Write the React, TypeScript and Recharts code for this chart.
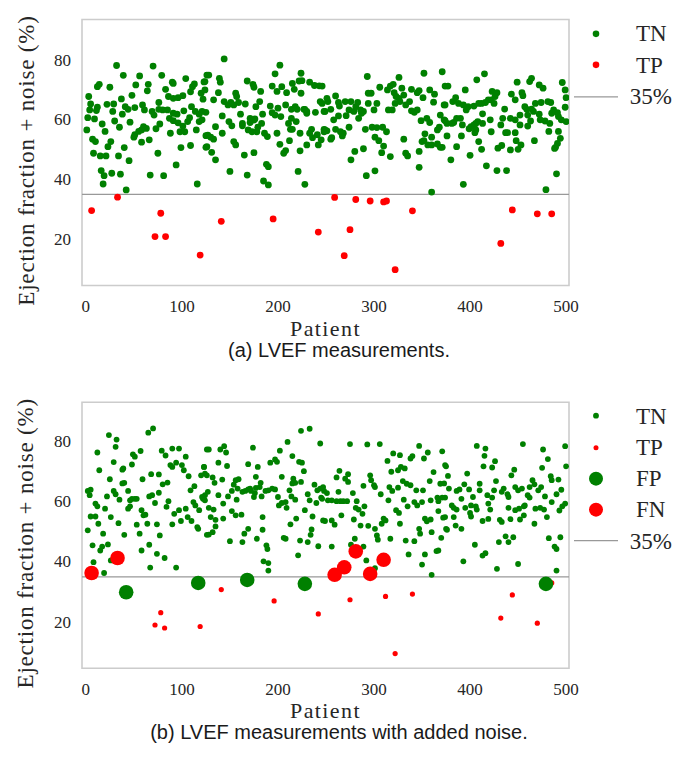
import React from "react";
import {
  ScatterChart,
  Scatter,
  XAxis,
  YAxis,
  ReferenceLine,
  ReferenceArea,
  Legend,
} from "recharts";

type Pt = [number, number];

// (a) LVEF measurements: [patient, ejection fraction]
const tnA: Pt[] = [
  [32,78.2],[70,78],[39,74.9],[56,74.7],[79,74.9],[14,71.9],[12,71.1],[25,70.9],[52,71.7],[65,71.9],[64,69.7],[48,68.2],[3,67.8],[37,67],[90,72.6],[91,72.2],[83,70.2],[86,67.8],[91,67.2],[96,67.4],[101,68.1],[104,73.8],[113,72],[111,71.1],[109,69.4],[120,68.9],[123,72.7],[126,75],
  [5,65.3],[22,65.2],[29,65.3],[41,64.4],[44,63.5],[51,64.1],[59,65],[61,63.3],[4,63.3],[12,64.2],[11,63.1],[28,62.8],[38,61.9],[69,62.8],[76,65.8],[76,63.5],[80,63.3],[85,63.3],[71,61.6],[91,62.2],[95,61.9],[102,63],[110,64.4],[114,62.8],[118,61.9],[121,62.8],
  [2,60.7],[9,60.3],[17,58.6],[30,59.6],[46,59.2],[35,57.5],[60,57.7],[63,57.1],[58,56.6],[55,56.1],[51,55],[50,54.2],[77,58.6],[73,57],[87,60.5],[91,59.7],[96,59],[101,57.9],[98,56],[103,56],[106,59.4],[108,60.7],[118,59.4],[115,56.6],[1,56.6],[20,56.1],[88,55.5],
  [7,53.5],[10,52.7],[26,52.7],[23,51],[40,50.7],[58,52.5],[66,53.3],[99,50.7],[109,51.4],[125,54.7],[125,50.8],[8,48.8],[15,47.9],[21,47.9],[34,47.9],[45,46.3],[75,48.8],[94,44.9],[16,43],[19,41.3],[27,42.1],[36,41.8],[67,41.5],[81,41.3],[18,38.5],[42,36.5],[116,38.5],
  [144,80.4],[202,78.3],[128,75],[124,72.8],[139,73.9],[140,72.6],[197,75.4],[224,75.6],[168,73],[174,71.9],[175,70.9],[124,70],[138,69.1],[182,69.5],[194,71.3],[199,69.5],[204,71.1],[209,69.1],[215,72.2],[217,70.2],[222,73],[225,73.1],[224,68.9],[233,72.6],[238,71.5],[243,71.4],
  [122,66.9],[133,66.7],[144,66.1],[148,65],[156,68.9],[157,67.8],[151,65.8],[154,65],[159,65.8],[166,65.3],[181,66.1],[177,64.4],[192,64.6],[200,63.9],[208,65],[214,63.5],[218,64.4],[220,63.5],[227,63.5],[230,62.8],[239,62.5],[244,66.1],[248,62.8],[125,62.5],[121,60],[142,61.3],
  [149,59.4],[152,58],[161,61.9],[163,58.8],[163,58],[171,60.5],[175,59.9],[176,60.3],[171,59.1],[169,56.6],[173,56],[179,57.5],[178,56],[184,61.9],[183,58.8],[186,55.5],[189,54.4],
  [194,62.4],[197,61.6],[203,61.1],[199,55.5],[211,58.8],[214,60.5],[213,56.8],[215,56.8],[219,59.4],[223,55.5],[228,63.5],[230,62.2],[235,56.8],[233,55.5],[236,54],[241,55],[242,51.6],[248,56.8],[248,56],[245,53.3],
  [127,54.9],[130,54.2],[133,53.5],[135,57.7],[142,55.5],[126,51],[131,49.1],[135,46.6],[154,52.7],[156,51.6],[202,51.8],[212,53],[206,48.8],[208,49.7],[223,49.6],[230,51.6],[165,48.2],[175,49],[188,45.1],[190,44.3],[150,42.7],[168,41.5],[185,39.5],[190,38.2],[221,42.7],[228,38.4],
  [293,74.5],[326,74.2],[352,75.6],[371,76.1],[246,71.3],[374,71.3],[251,67.2],[252,66.1],[246,65.5],[260,68],[263,65.8],[264,64.6],[255,63.5],[249,62.8],[270,66.1],[276,66.1],[283,65.8],[281,64.4],[279,62.8],[274,63.3],[271,61.4],[286,63.3],[287,62.2],[284,60.5],[289,62.8],[294,68.9],[297,68.9],[294,65.5],
  [300,63.3],[303,65.5],[306,70.9],[314,70],[317,71.3],[320,71.9],[321,69.1],[323,67.8],[326,67.2],[329,70.6],[331,68.3],[322,65.5],[319,63.3],[315,63.3],[327,66.1],[333,65],[337,66.1],[339,70.2],[345,69.1],[347,69.8],[351,67.4],[358,70],[363,68.6],[362,65.9],[339,63],[342,62.5],[345,63.3],[349,59.7],[355,60.5],[358,59.1],[369,61.6],[373,65],[374,59.7],[368,57.5],[366,56.6],
  [249,56.6],[251,56.3],[256,54],[255,53.5],[260,56.8],[265,56],[268,55.5],[267,54.6],[274,57.5],[258,60],[263,61.3],
  [291,56.8],[298,57.5],[303,57.4],[309,57.5],[313,56],[301,54.2],[305,53],[331,53.5],[310,51.2],[308,49],[317,47.7],[333,48.8],[335,47.9],[347,49.4],[350,52.7],[352,53],[356,51.6],[360,51.6],[366,51.9],[369,50.8],[360,54.2],[353,55.3],
  [280,49.4],[276,46.6],[289,50.3],[347,44.1],[292,41.3],[301,42.9],[360,35.8],
  [415,75.4],[407,73.4],[377,71.3],[395,70],[449,72.6],[462,72.8],[464,73.9],[472,71.7],[476,70.6],[496,72.5],[499,70],[500,67.4],
  [423,69.5],[428,69.1],[426,67.8],[422,66.7],[419,66.7],[425,65.5],[416,65.8],[412,65.5],[409,65.5],[404,64.6],[385,67.4],[382,66.1],[388,65.5],[393,65],[398,64.4],[396,63.3],[374,65],
  [443,68.6],[447,66.7],[454,69.1],[455,68.1],[468,65.5],[474,65.8],[481,66.1],[484,65.8],[487,63.3],[491,62.4],[499,64.2],[457,64.4],[459,63.5],[464,63.6],[466,62.8],
  [436,63.6],[434,60.5],[442,60.5],[447,60],[452,61.6],[460,61.6],[472,61.9],[463,59.6],[473,60],[478,59.6],[483,58.8],[492,61.1],[495,60],[500,59.4],[485,62.2],
  [373,60],[376,58.8],[381,58.8],[383,59.1],[386,60.5],[390,60.5],[392,58.3],[399,57],[401,57.7],[404,58.3],[406,58.8],[408,59.4],[413,58.8],[406,56.6],[405,55.7],[413,62],[421,60],[432,58.3],[439,55.7],[437,55.7],[447,55.7],[452,58.3],[460,57.9],[422,56],
  [376,54.6],[391,54.6],[371,50.8],[386,51],[409,52.7],[412,50.1],[429,50.5],[433,51.4],[442,49.9],[450,50.1],[453,51.6],[448,53],[467,53],[482,56.1],[492,56.1],[494,53.8],[491,52.1],[489,50.8],[488,50.4],
  [380,46.6],[400,48.1],[417,44.6],[428,43],[438,43],[490,41.9],[393,38.4],[479,36.6],
];

const tpA: Pt[] = [
  [6,29.6],[33,34.1],[78,28.7],[72,20.9],[83,20.9],[119,14.7],[141,26],[195,26.8],[242,22.4],[259,34],[281,33.3],
  [296,32.8],[310,32.5],[313,32.8],[340,29.5],[275,23.2],[269,14.5],[322,9.8],[444,29.8],[470,28.5],[485,28.5],[432,18.6],
];

// (b) LVEF measurements with added noise
const tnB: Pt[] = [
  [24,82.2],[32,80.7],[31,78.3],[70,84.4],[65,83],[12,76.4],[49,75.8],[51,75],[57,76.9],[29,73.2],[14,70.5],[39,71.1],[38,70.7],[48,72.4],[79,77],[83,75.4],[90,77.7],[97,77.7],[104,75],[88,72.2],[90,71.6],[94,73],[100,72.2],[102,70.5],[107,68.5],[109,63.8],[113,65.2],[123,71.6],[120,68.8],[126,68.8],[126,77.4],
  [68,69.2],[76,69.1],[59,67.5],[25,67.5],[40,66.3],[38,66.1],[80,65.8],[85,66.4],
  [2,63.6],[4,62.2],[5,64],[10,59.4],[12,58.5],[20,57.7],[22,61.8],[29,63.6],[31,62.5],[35,60.7],[44,63.6],[48,61],[53,61],[51,61],[46,60.5],[44,57.7],[46,58.5],[58,57.2],[60,55.5],[62,55.7],[66,61.8],[69,62.2],[72,59.6],[76,63],[84,58.3],[86,60.2],[92,56],[97,57.2],[99,53.6],[104,57.7],[106,54.9],[110,53.6],[112,59.9],[114,58.8],[118,57.2],[122,61],[124,62.2],
  [5,55.1],[10,55.1],[2,50.5],[13,52.7],[18,49.4],[26,54.9],[34,52.9],[40,49],[53,52.4],[56,49.4],[64,52.7],[74,52.5],[77,48.8],[90,52.5],[116,51.6],[117,51],[126,49],
  [7,45.5],[15,43.8],[17,45.1],[23,45.8],[58,43.8],[66,45.7],[74,42.7],[82,41.3],[8,39.9],[19,36.3],[67,38.1],[94,38.1],[26,40.5],
  [128,77.4],[140,77.4],[144,78.5],[146,76.4],[174,78],[210,79.9],[202,77],[215,75.2],[222,73.3],[225,73],[227,70.2],[244,79.4],[224,83.6],[233,84.3],
  [123,71.6],[138,73],[147,71.9],[169,72.5],[179,71.6],[192,73],[197,74.1],[199,73.3],
  [124,69.4],[132,68.1],[134,66.3],[142,67.4],[156,67.2],[159,67.5],[154,65.7],[158,64.4],[177,68.3],[182,66.3],[181,64.9],[177,64.6],[204,68.3],[216,67.7],[215,66.1],[218,66.3],[224,66.6],[238,65.7],[244,64.4],[247,64.9],[241,63.8],
  [121,61.6],[127,63.3],[124,60.5],[138,62.2],[148,61.8],[152,63.6],[157,60.7],[163,63.3],[166,63.6],[169,64.1],[171,64.4],[172,63.6],[175,61.6],[176,62.9],[183,61.8],[187,63.6],[190,63.8],[194,64.4],[197,64.1],[200,61.6],[204,59.6],[201,58.8],[208,59.9],[209,58],[212,63.8],[214,61.8],[218,60.7],[231,62.5],[233,60.5],[240,59.6],[245,61.4],[248,63.6],
  [128,58],[133,57.4],[143,59.4],[152,56.9],[156,55.5],[162,55.7],[143,54.4],[130,54.9],[135,54],[135,51.8],[128,49.1],[132,49.9],[228,57.2],[236,55.1],[247,53.8],[219,54.4],[213,52.5],[184,54.9],[184,50.7],[165,49.4],[169,51],[178,47.7],[163,46.6],[150,46.9],[206,48],[208,47.7],[223,47.1],[231,46.6],[235,50.8],[234,49],[242,45.2],[221,42.2],[188,45.5],[189,44.3],[185,40.2],[190,39.6],[190,37.1],
  [275,79.2],[293,79.1],[306,79.2],[347,78.6],[320,76.1],[327,75.5],[338,74.4],[340,75.2],[352,74.4],[356,76.4],[371,76.8],[314,73.6],
  [264,70.3],[261,68.1],[270,67.7],[273,69.2],[273,66.6],[296,68.8],[297,67.2],[300,65.5],[301,64.9],[289,65.3],[318,70],[325,70.5],[328,71.6],[332,71.1],[330,66.9],[334,66],[338,65.5],[325,64.7],[316,64.9],[319,63.6],[307,62.5],[344,63.8],[351,63.8],[358,66.9],[362,69.9],[369,66],[374,72.2],
  [251,62.9],[252,60.5],[246,61],[256,60.5],[261,60.2],[265,60.2],[268,60.2],[272,60.2],[263,63.3],[278,62.9],[282,60.2],[281,58],[284,57.4],[290,58.5],[288,56],[315,60.5],[323,57.2],[331,60.7],[335,58.5],[342,59.9],[345,58.8],[350,59.9],[359,60.5],[366,61.4],[371,61.4],[367,60.2],[367,56.9],[372,54.7],[326,56.3],
  [249,53.6],[256,53.8],[259,52.4],[266,55.5],[279,54.1],[286,52.1],[294,52],[301,51],[310,54.4],[308,52.7],[312,53.8],[327,52.7],[347,51],[348,49.4],[353,54.4],[355,53.5],[359,54.1],[360,49.9],[370,48],[375,51],
  [303,48.8],[304,47.4],[317,47.7],[333,47.1],[342,46.9],[280,47.7],[256,45.1],[276,45.7],[289,45.1],[336,42.5],[353,42.5],[365,43.6],[367,43.8],[350,39.1],[292,40.5],[301,37.9],[360,35.7],
  [407,78.6],[416,77.7],[415,75.3],[455,79.2],[476,77.4],[481,74.2],[499,78.5],
  [375,71.8],[377,68.6],[397,69.4],[414,71.8],[423,71.4],[426,73.5],[443,68.8],[446,70.7],[475,71.3],[484,68.5],[485,67.2],[492,67.4],[495,64],[500,71.8],[496,58.5],[499,59.4],[493,57.1],
  [373,66.1],[378,64.4],[386,63.6],[389,64.1],[394,65.8],[399,64.1],[403,61.6],[410,66],[410,63.8],[418,62.2],[425,63.8],[427,66.9],[435,64.4],[439,62.5],[440,61.6],[447,64.9],[450,63.8],[454,64.4],[460,62.2],[462,64.9],[465,67.2],[467,65.8],[471,63.8],[474,64.9],[478,61.8],[485,59.9],[490,62.5],[462,61.4],
  [374,61.4],[381,58.8],[383,58],[386,57.4],[391,61],[395,58],[401,58.8],[400,56.3],[406,58.5],[407,57.4],[419,59.4],[421,57.4],[423,61.4],[433,63.3],[440,58],[447,57.2],[451,57.7],[456,58.5],[457,58.8],[468,57.7],[473,58],[477,57.4],
  [374,54.9],[383,54.9],[385,52.1],[391,51],[401,55.1],[413,53.6],[419,54.3],[431,54],[433,53.3],[442,54.2],[452,54.1],[456,55.5],[467,52.7],[480,54.9],[376,50.7],
  [405,45.7],[413,42.1],[416,42.9],[430,46.6],[437,48.5],[440,46.6],[445,48.2],[482,47.9],[494,48.2],[488,45.1],[490,44.3],[393,40.2],[428,37.7],[450,39.3],[490,37.1],
];

const tpB: Pt[] = [
  [78,23.1],[72,19],[82,18],[119,18.5],[141,30.8],[196,27],[242,22.7],[275,27.4],
  [312,28.5],[340,29.3],[322,9.5],[444,29],[432,21.3],[470,19.6],[485,33],
];
const fpB: Pt[] = [[42,29.9],[117,33],[168,34],[228,32.7],[479,32.7]];
const fnB: Pt[] = [[6,36.3],[33,41.3],[259,35.7],[269,38.2],[281,43.5],[296,36],[310,40.7]];

const X_TICKS = [0, 100, 200, 300, 400, 500];
const Y_TICKS = [20, 40, 60, 80];
const THRESHOLD = 35;

const GREEN = "#008000";
const RED = "#ff0000";
const FRAME = "#cccccc";
const LINE = "#999999";
const INK = "#262626";
const SERIF = "'Liberation Serif', 'Times New Roman', serif";
const SANS = "'Liberation Sans', Arial, sans-serif";

const toRows = (pts: Pt[]) => pts.map(([patient, ef]) => ({ patient, ef }));

const dot = (r: number, fill: string) => (props: any) =>
  <circle cx={props.cx} cy={props.cy} r={r} fill={fill} />;

// serif tick labels, drawn by hand so the font sticks
function XTick(props: any) {
  return (
    <text x={props.x} y={props.y + 13} textAnchor="middle" dominantBaseline="central"
      fill={INK} fontFamily={SERIF} fontSize={17}>
      {props.payload.value}
    </text>
  );
}

function YTick(props: any) {
  return (
    <text x={props.x - 3} y={props.y} textAnchor="end" dominantBaseline="central"
      fill={INK} fontFamily={SERIF} fontSize={17}>
      {props.payload.value}
    </text>
  );
}

type LegendItem = { label: string; color?: string; r?: number; line?: boolean };

function LegendBox({ items, rowH }: { items: LegendItem[]; rowH: number }) {
  return (
    <div style={{ fontFamily: SERIF, fontSize: 23, color: INK }}>
      {items.map((it) => (
        <div key={it.label} style={{ display: "flex", alignItems: "center", height: rowH }}>
          <svg width={52} height={rowH}>
            {it.line ? (
              <line x1={2} x2={46} y1={rowH / 2} y2={rowH / 2} stroke={LINE} strokeWidth={1.4} />
            ) : (
              <circle cx={24} cy={rowH / 2} r={it.r} fill={it.color} />
            )}
          </svg>
          <span style={{ marginLeft: 12, lineHeight: 1 }}>{it.label}</span>
        </div>
      ))}
    </div>
  );
}

function YTitle(props: any) {
  const vb = props.viewBox;
  const cx = 26;
  const cy = vb.y + vb.height / 2 + 8;
  return (
    <text x={cx} y={cy} transform={`rotate(-90 ${cx} ${cy})`} textAnchor="middle"
      dominantBaseline="central" fill={INK} fontFamily={SERIF} fontSize={23} letterSpacing={0.8}>
      Ejection fraction + noise (%)
    </text>
  );
}

function XTitle(props: any) {
  const vb = props.viewBox;
  return (
    <text x={vb.x + vb.width / 2} y={vb.y + 42.5} textAnchor="middle" dominantBaseline="central"
      fill={INK} fontFamily={SERIF} fontSize={22} letterSpacing={1.4}>
      Patient
    </text>
  );
}

type Series = { name: string; pts: Pt[]; r: number; color: string };

const CHART_H = 360;
const PLOT_H = 266;

function Panel({ series, legend, yDomain, top, rowH, legendTop }: {
  series: Series[]; legend: LegendItem[]; yDomain: [number, number];
  top: number; rowH: number; legendTop: number;
}) {
  return (
    <ScatterChart width={678} height={CHART_H} margin={{ top, right: 109, bottom: 0, left: 0 }}>
      <XAxis dataKey="patient" type="number" domain={[-4, 503]} allowDataOverflow ticks={X_TICKS}
        tickLine={false} axisLine={false} height={CHART_H - top - PLOT_H}
        tick={<XTick />} label={<XTitle />} />
      <YAxis dataKey="ef" type="number" domain={yDomain} allowDataOverflow ticks={Y_TICKS}
        tickLine={false} axisLine={false} width={82}
        tick={<YTick />} label={<YTitle />} />
      <ReferenceArea x1={-4} x2={503} y1={yDomain[0]} y2={yDomain[1]} fill="none"
        stroke={FRAME} strokeWidth={1.6} ifOverflow="visible" />
      {series.map((s) => (
        <Scatter key={s.name} name={s.name} data={toRows(s.pts)} fill={s.color}
          shape={dot(s.r, s.color)} isAnimationActive={false} />
      ))}
      <ReferenceLine y={THRESHOLD} stroke={LINE} strokeWidth={1.3} />
      <Legend layout="vertical" align="center" verticalAlign="middle"
        wrapperStyle={{ left: 572, top: legendTop, width: 100 }}
        content={() => <LegendBox items={legend} rowH={rowH} />} />
    </ScatterChart>
  );
}

const captionStyle: React.CSSProperties = {
  position: "absolute", left: 0, width: 678, textAlign: "center",
  fontFamily: SANS, fontSize: 20, lineHeight: "15px", color: "#1a1a1a",
};

export default function App() {
  return (
    <div style={{ position: "absolute", left: 0, top: 0, width: 678, height: 770, background: "#fff" }}>
      <div style={{ position: "absolute", left: 0, top: 0 }}>
        <Panel
          top={19.5}
          yDomain={[4.5, 93.6]}
          rowH={31.7}
          legendTop={17.5}
          series={[
            { name: "TN", pts: tnA, r: 3.4, color: GREEN },
            { name: "TP", pts: tpA, r: 3.4, color: RED },
          ]}
          legend={[
            { label: "TN", color: GREEN, r: 3.3 },
            { label: "TP", color: RED, r: 3.3 },
            { label: "35%", line: true },
          ]}
        />
      </div>
      <div style={{ ...captionStyle, top: 343 }}>(a) LVEF measurements.</div>
      <div style={{ position: "absolute", left: 0, top: 380 }}>
        <Panel
          top={22.3}
          yDomain={[4.6, 93.1]}
          rowH={31.25}
          legendTop={20.4}
          series={[
            { name: "TN", pts: tnB, r: 2.9, color: GREEN },
            { name: "TP", pts: tpB, r: 2.6, color: RED },
            { name: "FP", pts: fpB, r: 7.3, color: GREEN },
            { name: "FN", pts: fnB, r: 7.3, color: RED },
          ]}
          legend={[
            { label: "TN", color: GREEN, r: 2.9 },
            { label: "TP", color: RED, r: 2.5 },
            { label: "FP", color: GREEN, r: 7 },
            { label: "FN", color: RED, r: 7 },
            { label: "35%", line: true },
          ]}
        />
      </div>
      <div style={{ ...captionStyle, top: 725 }}>(b) LVEF measurements with added noise.</div>
    </div>
  );
}
